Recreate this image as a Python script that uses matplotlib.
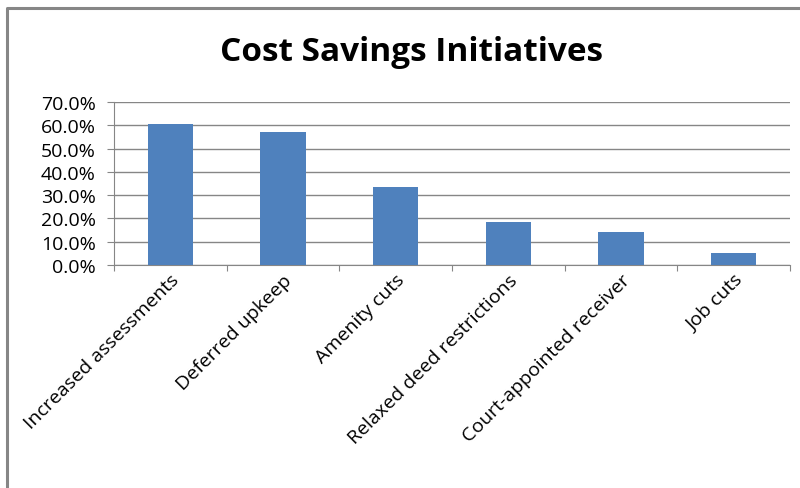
import numpy as np
import matplotlib.pyplot as plt
from matplotlib.lines import Line2D
from matplotlib.ticker import PercentFormatter

# dados do gráfico
iniciativas = ['Increased assessments', 'Deferred upkeep', 'Amenity cuts',
               'Relaxed deed restrictions', 'Court-appointed receiver', 'Job cuts']
percentuais = [60.5, 57.2, 33.6, 18.6, 14.3, 5.3]
ticks_y = [0, 10, 20, 30, 40, 50, 60, 70]

plt.rcParams['font.family'] = ['Open Sans', 'DejaVu Sans']
cinza = '#868686'

fig = plt.figure(figsize=(8, 4.89), dpi=100)
ax = fig.add_axes([0.1425, 0.456, 0.845, 0.333])

x = np.arange(len(iniciativas))
ax.bar(x, percentuais, width=0.4, color='#4F81BD', zorder=3)

ax.set_xlim(-0.5, len(iniciativas) - 0.5)
ax.set_ylim(0, 70)
ax.set_yticks(ticks_y)
ax.yaxis.set_major_formatter(PercentFormatter(decimals=1))
ax.grid(axis='y', color=cinza, linewidth=1, zorder=0)

# ticks do eixo x nas divisas entre categorias
ax.set_xticks(np.arange(-0.5, len(iniciativas)), minor=False)
ax.set_xticklabels([])
ax.set_xticks(x, minor=True)
ax.set_xticklabels(iniciativas, minor=True, rotation=45, ha='right',
                   rotation_mode='anchor', fontsize=14)
ax.tick_params(axis='x', which='minor', length=0, pad=4)
ax.tick_params(axis='x', which='major', length=4.5, color=cinza)
ax.tick_params(axis='y', length=5, color=cinza, labelsize=14, pad=8)

for lado in ['top', 'right']:
    ax.spines[lado].set_visible(False)
for lado in ['left', 'bottom']:
    ax.spines[lado].set_color(cinza)

fig.text(0.514, 0.893, 'Cost Savings Initiatives', ha='center', va='center',
         fontsize=24, fontweight='bold')

# moldura da área do gráfico
fig.add_artist(Line2D([0.009, 0.009, 1.0], [0.0, 0.981, 0.981],
                      transform=fig.transFigure, color=cinza, linewidth=2.2))

plt.savefig('out.png', dpi=100)
plt.close()
